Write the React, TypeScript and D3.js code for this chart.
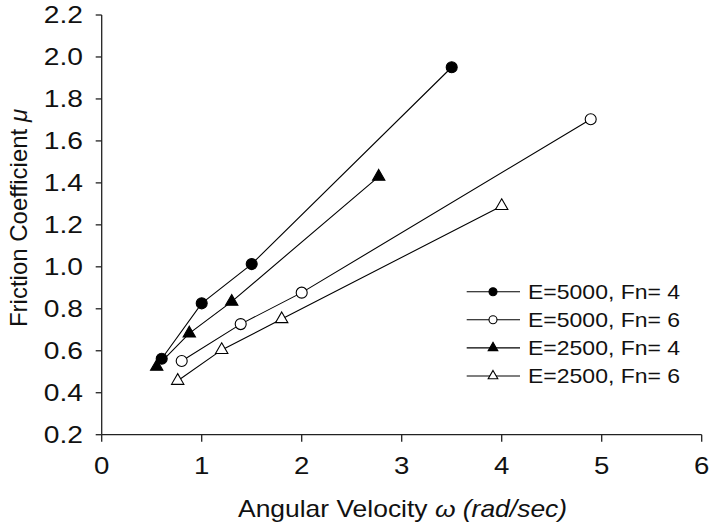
import * as d3 from "d3";
import React from "react";

const xTicks = [0, 1, 2, 3, 4, 5, 6];
const yTicks = [0.2, 0.4, 0.6, 0.8, 1.0, 1.2, 1.4, 1.6, 1.8, 2.0, 2.2];

const seriesNames = ["E=5000, Fn= 4", "E=5000, Fn= 6", "E=2500, Fn= 4", "E=2500, Fn= 6"];
const seriesShapes = ["circle", "circle", "triangle", "triangle"];
const seriesFilled = [true, false, true, false];

const e5000fn4X = [0.6, 1.0, 1.5, 3.5];
const e5000fn4Y = [0.562, 0.826, 1.013, 1.951];
const e5000fn6X = [0.8, 1.39, 2.0, 4.89];
const e5000fn6Y = [0.551, 0.727, 0.877, 1.703];
const e2500fn4X = [0.55, 0.876, 1.3, 2.77];
const e2500fn4Y = [0.524, 0.683, 0.834, 1.43];
const e2500fn6X = [0.76, 1.2, 1.8, 4.0];
const e2500fn6Y = [0.457, 0.604, 0.751, 1.29];

const seriesX = [e5000fn4X, e5000fn6X, e2500fn4X, e2500fn6X];
const seriesY = [e5000fn4Y, e5000fn6Y, e2500fn4Y, e2500fn6Y];

const W = 711;
const H = 530;
const FONT = "'Liberation Sans', Arial, sans-serif";
// text in the source looks a bit wider than plain Arial
const SX = 1.15;

const x = d3.scaleLinear().domain([0, 6]).range([101.7, 701.7]);
const y = d3.scaleLinear().domain([0.2, 2.2]).range([434.7, 15]);

const marker = (shape: string, filled: boolean, cx: number, cy: number, big: boolean, key: string) => {
    const fill = filled ? "#000" : "#fff";
    if (shape === "circle") {
        return <circle key={key} cx={cx} cy={cy} r={big ? 5.5 : 4} fill={fill} stroke="#000" strokeWidth={1.1} />;
    }
    const path = d3.symbol().type(d3.symbolTriangle).size(big ? 66 : 40)()!;
    return <path key={key} d={path} transform={`translate(${cx},${cy})`} fill={fill} stroke="#000" strokeWidth={1.1} />;
};

const App: React.FC = () => {
    const line = d3.line<[number, number]>().x(d => x(d[0])).y(d => y(d[1]));
    const [x0, x1] = x.range();
    const [yb, yt] = y.range();

    return (
        <svg width={W} height={H} style={{ position: "absolute", left: 0, top: 0, background: "#fff" }}>
            {/* axes */}
            <line x1={x0} x2={x0} y1={yt} y2={yb} stroke="#222" strokeWidth={1.3} />
            <line x1={x0} x2={x1} y1={yb} y2={yb} stroke="#222" strokeWidth={1.3} />
            {yTicks.map(t => (
                <g key={"y" + t}>
                    <line x1={x0 - 6} x2={x0} y1={y(t)} y2={y(t)} stroke="#222" strokeWidth={1.3} />
                    <text transform={`translate(83,${y(t)}) scale(1.2,1)`} dy="0.36em" textAnchor="end"
                          fontFamily={FONT} fontSize={23.5} fill="#111">
                        {t.toFixed(1)}
                    </text>
                </g>
            ))}
            {xTicks.map(t => (
                <g key={"x" + t}>
                    <line x1={x(t)} x2={x(t)} y1={yb} y2={yb + 7} stroke="#222" strokeWidth={1.3} />
                    <text transform={`translate(${x(t)},474) scale(1.2,1)`} textAnchor="middle"
                          fontFamily={FONT} fontSize={23} fill="#111">
                        {t}
                    </text>
                </g>
            ))}

            {/* axis titles */}
            <text transform={`translate(238,517) scale(${SX},1)`} fontFamily={FONT} fontSize={23} fill="#111">
                Angular Velocity <tspan fontStyle="italic">ω</tspan> <tspan fontStyle="italic">(rad/sec)</tspan>
            </text>
            <text transform="translate(27,218) rotate(-90)" textAnchor="middle" fontFamily={FONT} fontSize={24} fill="#111">
                Friction Coefficient <tspan fontStyle="italic">μ</tspan>
            </text>

            {/* series */}
            {seriesX.map((xs, i) => {
                const pts = xs.map((v, j) => [v, seriesY[i][j]] as [number, number]);
                return (
                    <g key={"s" + i}>
                        <path d={line(pts)!} fill="none" stroke="#000" strokeWidth={1.1} />
                        {pts.map((p, j) => marker(seriesShapes[i], seriesFilled[i], x(p[0]), y(p[1]), true, `m${i}-${j}`))}
                    </g>
                );
            })}

            {/* legend */}
            {seriesNames.map((name, i) => {
                const ly = 291.7 + i * 28.1;
                return (
                    <g key={"l" + i}>
                        <line x1={466.7} x2={520} y1={ly} y2={ly} stroke="#000" strokeWidth={1.1} />
                        {marker(seriesShapes[i], seriesFilled[i], 493, ly, false, "lm" + i)}
                        <text transform={`translate(528,${ly}) scale(${SX},1)`} dy="0.36em"
                              fontFamily={FONT} fontSize={20} fill="#111">
                            {name}
                        </text>
                    </g>
                );
            })}
        </svg>
    );
};

export default App;
